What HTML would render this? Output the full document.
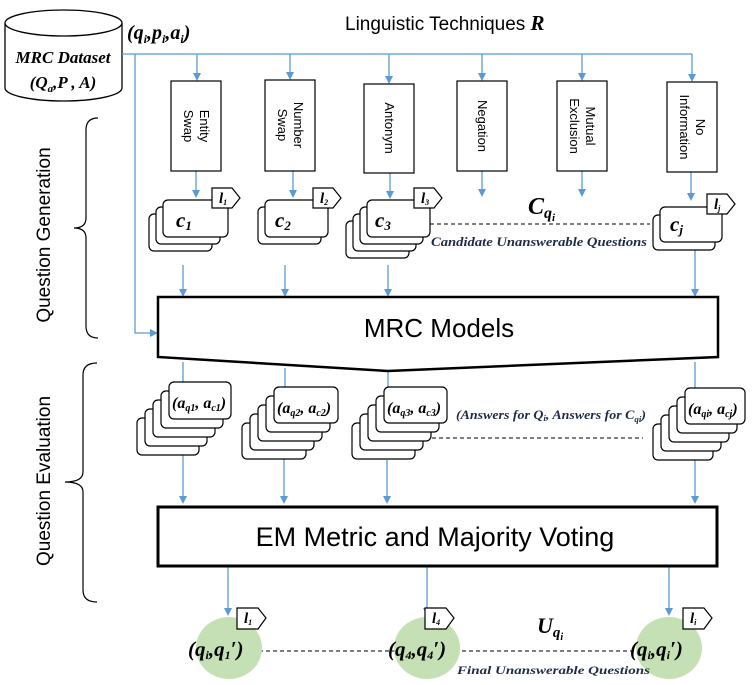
<!DOCTYPE html>
<html><head><meta charset="utf-8"><style>
html,body{margin:0;padding:0;background:#fff;}
svg{display:block;}
.s{font-family:"Liberation Sans",sans-serif;}
.m{font-family:"Liberation Serif",serif;font-style:italic;font-weight:bold;}
</style></head><body>
<svg width="754" height="685" viewBox="0 0 754 685" xmlns="http://www.w3.org/2000/svg">
<defs>
<marker id="ar" markerWidth="8" markerHeight="8" refX="6" refY="4" orient="auto" markerUnits="userSpaceOnUse">
<path d="M0,0 L8,4 L0,8 z" fill="#5B9BD5"/>
</marker>
</defs>
<g fill="none" stroke="#000" stroke-width="1.3">
<path d="M5,23 L5,88 A58.5,13 0 0 0 122,88 L122,23" fill="#fff"/>
<ellipse cx="63.5" cy="23" rx="58.5" ry="13" fill="#fff"/>
</g>
<text x="63" y="63" class="m" font-size="17" text-anchor="middle">MRC Dataset</text>
<text x="63" y="88" class="m" font-size="17" text-anchor="middle">(Q<tspan font-size="11" dy="4">a</tspan><tspan dy="-4">,P , A)</tspan></text>
<text x="127" y="39" class="m" font-size="20">(q<tspan font-size="12" dy="4">i</tspan><tspan dy="-4">,p</tspan><tspan font-size="12" dy="4">i</tspan><tspan dy="-4">,a</tspan><tspan font-size="12" dy="4">i</tspan><tspan dy="-4">)</tspan></text>
<text x="345" y="30" class="s" font-size="19">Linguistic Techniques <tspan class="m" font-size="21">R</tspan></text>

<g stroke="#5B9BD5" stroke-width="1.3" fill="none">
<path d="M122,54 H692"/>
<path d="M135,54 V333 H156" marker-end="url(#ar)"/>
<path d="M197,54 V79" marker-end="url(#ar)"/>
<path d="M290,54 V78" marker-end="url(#ar)"/>
<path d="M389,54 V82" marker-end="url(#ar)"/>
<path d="M482,54 V79" marker-end="url(#ar)"/>
<path d="M582,54 V79" marker-end="url(#ar)"/>
<path d="M692,54 V80" marker-end="url(#ar)"/>
<path d="M196,171 V196" marker-end="url(#ar)"/>
<path d="M293,171 V196" marker-end="url(#ar)"/>
<path d="M390,173 V197" marker-end="url(#ar)"/>
<path d="M482,171 V195" marker-end="url(#ar)"/>
<path d="M582,171 V195" marker-end="url(#ar)"/>
<path d="M691,172 V199" marker-end="url(#ar)"/>
<path d="M183,265 V295" marker-end="url(#ar)"/>
<path d="M285,265 V295" marker-end="url(#ar)"/>
<path d="M388,265 V295" marker-end="url(#ar)"/>
<path d="M695,250 V295" marker-end="url(#ar)"/>
<path d="M183,362 V383"/>
<path d="M285,368 V387"/>
<path d="M388,370 V387"/>
<path d="M695,362 V388"/>
<path d="M183,455 V502" marker-end="url(#ar)"/>
<path d="M284,458 V502" marker-end="url(#ar)"/>
<path d="M387,460 V502" marker-end="url(#ar)"/>
<path d="M695,460 V502" marker-end="url(#ar)"/>
<path d="M228,566 V614" marker-end="url(#ar)"/>
<path d="M427,566 V614" marker-end="url(#ar)"/>
<path d="M669,566 V614" marker-end="url(#ar)"/>
</g>

<g fill="#fff" stroke="#000" stroke-width="1.2">
<rect x="171" y="81" width="50" height="90"/>
<rect x="265" y="80" width="50" height="91"/>
<rect x="364" y="84" width="50" height="89"/>
<rect x="457" y="81" width="50" height="90"/>
<rect x="557" y="81" width="50" height="90"/>
<rect x="667" y="82" width="50" height="90"/>
</g>
<g class="s" font-size="13" text-anchor="middle">
<text transform="translate(196,126) rotate(90)"><tspan x="0" y="-4">Entity</tspan><tspan x="0" y="12">Swap</tspan></text>
<text transform="translate(290,125) rotate(90)"><tspan x="0" y="-4">Number</tspan><tspan x="0" y="12">Swap</tspan></text>
<text transform="translate(389,128) rotate(90)"><tspan x="0" y="4">Antonym</tspan></text>
<text transform="translate(482,126) rotate(90)"><tspan x="0" y="4">Negation</tspan></text>
<text transform="translate(582,126) rotate(90)"><tspan x="0" y="-4">Mutual</tspan><tspan x="0" y="12">Exclusion</tspan></text>
<text transform="translate(692,127) rotate(90)"><tspan x="0" y="-4">No</tspan><tspan x="0" y="12">Information</tspan></text>
</g>

<g fill="#fff" stroke="#000" stroke-width="1.2">
<rect x="149" y="214" width="63" height="37" rx="5"/>
<rect x="156" y="207" width="64" height="37" rx="5"/>
<rect x="163" y="200" width="65" height="37" rx="5"/>
<rect x="258" y="207" width="63" height="37" rx="5"/>
<rect x="265" y="200" width="63" height="37" rx="5"/>
<rect x="346" y="221" width="63" height="37" rx="5"/>
<rect x="353" y="214" width="63" height="37" rx="5"/>
<rect x="360" y="207" width="63" height="37" rx="5"/>
<rect x="367" y="200" width="63" height="37" rx="5"/>
<rect x="653" y="215" width="62" height="35" rx="5"/>
<rect x="660" y="207" width="62" height="35" rx="5"/>
<path d="M212,188 H232 L240,198 L232,208 H212 Z"/>
<path d="M313,188 H333 L341,198 L333,208 H313 Z"/>
<path d="M414,188 H434 L442,198 L434,208 H414 Z"/>
<path d="M707,194 H727 L735,204 L727,214 H707 Z"/>
</g>
<g class="m" font-size="21">
<text x="176" y="227">c<tspan font-size="13" dy="3">1</tspan></text>
<text x="275" y="227">c<tspan font-size="13" dy="3">2</tspan></text>
<text x="375" y="227">c<tspan font-size="13" dy="3">3</tspan></text>
<text x="670" y="231">c<tspan font-size="13" dy="3">j</tspan></text>
</g>
<g class="m" font-size="15">
<text x="219" y="203">l<tspan font-size="8" dy="2">1</tspan></text>
<text x="320" y="203">l<tspan font-size="8" dy="2">2</tspan></text>
<text x="421" y="203">l<tspan font-size="8" dy="2">3</tspan></text>
<text x="714" y="209">l<tspan font-size="8" dy="2">j</tspan></text>
</g>
<path d="M430,224 H650" stroke="#000" stroke-dasharray="4,3" fill="none"/>
<text x="528" y="214" class="m" font-size="24">C<tspan font-size="16" dy="4">q</tspan><tspan font-size="11" dy="3">i</tspan></text>
<text x="431" y="246" class="m" font-size="12.5" fill="#1f2a44" textLength="216" lengthAdjust="spacingAndGlyphs">Candidate Unanswerable Questions</text>

<path d="M158,297 H718 V357 L388,371 L158,357 Z" fill="#fff" stroke="#000" stroke-width="2.5"/>
<text x="439" y="337" class="s" font-size="26" text-anchor="middle">MRC Models</text>

<g fill="#fff" stroke="#000" stroke-width="1.2">
<rect x="137" y="418" width="62" height="37" rx="5"/>
<rect x="145" y="409" width="62" height="37" rx="5"/>
<rect x="153" y="400" width="62" height="37" rx="5"/>
<rect x="161" y="391" width="62" height="37" rx="5"/>
<rect x="169" y="382" width="62" height="37" rx="5"/>
<rect x="242" y="423" width="64" height="36" rx="5"/>
<rect x="250" y="414" width="64" height="36" rx="5"/>
<rect x="258" y="405" width="64" height="36" rx="5"/>
<rect x="266" y="396" width="64" height="36" rx="5"/>
<rect x="274" y="387" width="64" height="36" rx="5"/>
<rect x="352" y="423" width="63" height="36" rx="5"/>
<rect x="360" y="414" width="63" height="36" rx="5"/>
<rect x="368" y="405" width="63" height="36" rx="5"/>
<rect x="376" y="396" width="63" height="36" rx="5"/>
<rect x="384" y="387" width="63" height="36" rx="5"/>
<rect x="653" y="424" width="60" height="36" rx="5"/>
<rect x="661" y="415" width="60" height="36" rx="5"/>
<rect x="669" y="406" width="60" height="36" rx="5"/>
<rect x="677" y="397" width="60" height="36" rx="5"/>
<rect x="685" y="388" width="60" height="36" rx="5"/>
</g>
<g class="m" font-size="16">
<text x="172" y="408">(a<tspan font-size="10" dy="3">q1</tspan><tspan dy="-3">, a</tspan><tspan font-size="10" dy="3">c1</tspan><tspan dy="-3">)</tspan></text>
<text x="277" y="413">(a<tspan font-size="10" dy="3">q2</tspan><tspan dy="-3">, a</tspan><tspan font-size="10" dy="3">c2</tspan><tspan dy="-3">)</tspan></text>
<text x="387" y="413">(a<tspan font-size="10" dy="3">q3</tspan><tspan dy="-3">, a</tspan><tspan font-size="10" dy="3">c3</tspan><tspan dy="-3">)</tspan></text>
<text x="688" y="414">(a<tspan font-size="10" dy="3">qi</tspan><tspan dy="-3">, a</tspan><tspan font-size="10" dy="3">cj</tspan><tspan dy="-3">)</tspan></text>
</g>
<path d="M432,438 H643" stroke="#000" stroke-dasharray="4,3" fill="none"/>
<text x="456" y="419" class="m" font-size="12.5" fill="#1f2a44" textLength="190" lengthAdjust="spacingAndGlyphs">(Answers for Q<tspan font-size="8" dy="2">i</tspan><tspan dy="-2">, Answers for C</tspan><tspan font-size="8" dy="3">qi</tspan><tspan dy="-3">)</tspan></text>

<rect x="158" y="507" width="559" height="59" fill="#fff" stroke="#000" stroke-width="3"/>
<text x="435" y="546" class="s" font-size="27" text-anchor="middle">EM Metric and Majority Voting</text>

<path d="M245,651 H640" stroke="#000" stroke-dasharray="4,3" fill="none"/>
<g fill="#C5E0B4">
<ellipse cx="229" cy="648" rx="33" ry="31"/>
<ellipse cx="427" cy="648" rx="33" ry="31"/>
<ellipse cx="669" cy="648" rx="33" ry="31"/>
</g>
<g fill="#fff" stroke="#000" stroke-width="1.2">
<path d="M237,608 H258 L266,618 L258,629 H237 Z"/>
<path d="M425,608 H446 L454,618 L446,629 H425 Z"/>
<path d="M683,608 H704 L712,618 L704,629 H683 Z"/>
</g>
<g class="m" font-size="15">
<text x="244" y="623">l<tspan font-size="8" dy="2">1</tspan></text>
<text x="432" y="623">l<tspan font-size="8" dy="2">4</tspan></text>
<text x="690" y="623">l<tspan font-size="8" dy="2">i</tspan></text>
</g>
<g class="m" font-size="21">
<text x="188" y="656">(q<tspan font-size="12" dy="3">i</tspan><tspan dy="-3">,q</tspan><tspan font-size="12" dy="3">1</tspan><tspan dy="-3">′)</tspan></text>
<text x="388" y="656">(q<tspan font-size="12" dy="3">4</tspan><tspan dy="-3">,q</tspan><tspan font-size="12" dy="3">4</tspan><tspan dy="-3">′)</tspan></text>
<text x="630" y="656">(q<tspan font-size="12" dy="3">i</tspan><tspan dy="-3">,q</tspan><tspan font-size="12" dy="3">i</tspan><tspan dy="-3">′)</tspan></text>
</g>
<text x="537" y="633" class="m" font-size="22">U<tspan font-size="15" dy="4">q</tspan><tspan font-size="10" dy="3">i</tspan></text>
<text x="457" y="674" class="m" font-size="12" fill="#1f2a44" textLength="193" lengthAdjust="spacingAndGlyphs">Final Unanswerable Questions</text>

<g fill="none" stroke="#000" stroke-width="1.2">
<path d="M98,118 Q86,118 86,130 V218 Q86,228 74,228 Q86,228 86,238 V326 Q86,338 98,338"/>
<path d="M97,363 Q83,363 83,375 V472 Q83,482 65,482 Q83,482 83,492 V590 Q83,602 97,602"/>
</g>
<text transform="translate(50,235) rotate(-90)" class="s" font-size="19" text-anchor="middle">Question Generation</text>
<text transform="translate(50,481) rotate(-90)" class="s" font-size="19" text-anchor="middle">Question Evaluation</text>
</svg>
</body></html>
